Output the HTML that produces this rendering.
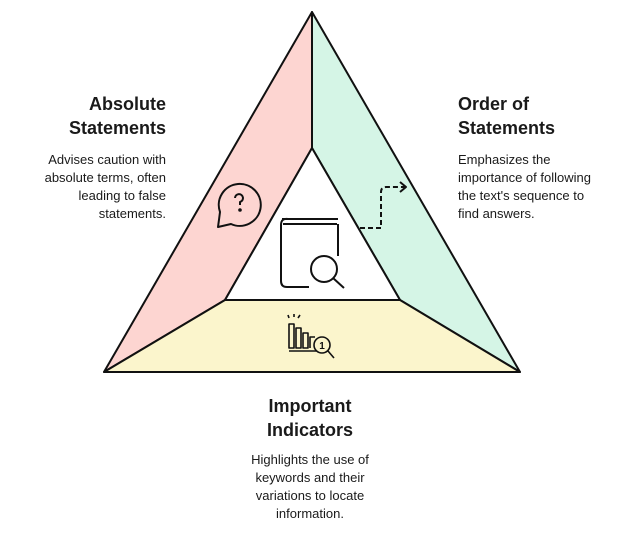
<!DOCTYPE html>
<html><head><meta charset="utf-8"><style>
body{margin:0;width:636px;height:535px;background:#fff;font-family:"Liberation Sans",sans-serif;position:relative;overflow:hidden}
.t{position:absolute;color:#1a1a1a}
h{display:block;font-weight:bold;font-size:18px;line-height:24px}
p{margin:0;font-size:13px;line-height:18px}
</style></head><body>
<svg width="636" height="535" style="position:absolute;left:0;top:0" fill="none" stroke="#111" stroke-width="2" stroke-linejoin="round">
<polygon points="312,12 312,148 225,300 104,372" fill="#fdd5d1"/>
<polygon points="312,12 520,372 400,300 312,148" fill="#d5f5e6"/>
<polygon points="104,372 225,300 400,300 520,372" fill="#fbf5cc"/>
<polygon points="312,148 225,300 400,300" fill="#fff"/>
<path d="M218,227 L231,224 A21,21 0 1 0 220,212 Q219,220 218,227 Z" stroke-width="2"/>
<path d="M235,198 a4,4 0 1 1 5,4 v3" stroke-width="2"/><circle cx="240" cy="210" r="0.8" fill="#111"/>
<path d="M360,228 H381 V192 Q381,187 386,187 H405" stroke-dasharray="5,3"/>
<path d="M400,182 L406,187 L400,192"/>
<path d="M282,219 H338 M283,224 H337 M338,224 V256 M309,287 H287 Q281,287 281,281 V225 Q281,218 288,219" />
<circle cx="324" cy="269" r="13"/><path d="M333,278 L344,288"/>
<path d="M289,348 V324 H294 V348 Z M296,348 V328 H301 V348 Z M303,348 V333 H308 V348 Z M310,348 V337 H315" stroke-width="1.6"/>
<path d="M289,318 l-1,-3 M294,317 l0,-3 M298,318 l2,-3" stroke-width="1.6"/>
<path d="M289,351 H318" stroke-width="1.6"/>
<circle cx="322" cy="345" r="8" fill="#fbf5cc" stroke-width="1.6"/><path d="M328,351 L334,358" stroke-width="1.6"/>
<text x="322" y="349" font-size="10" font-weight="bold" fill="#111" stroke="none" text-anchor="middle" font-family="Liberation Sans">1</text>
</svg>
<div class="t" style="right:470px;top:92px;text-align:right"><h>Absolute<br>Statements</h></div>
<div class="t" style="right:470px;top:151px;width:150px;text-align:right"><p>Advises caution with absolute terms, often leading to false statements.</p></div>
<div class="t" style="left:458px;top:92px"><h>Order of<br>Statements</h></div>
<div class="t" style="left:458px;top:151px;width:146px"><p>Emphasizes the importance of following the text's sequence to find answers.</p></div>
<div class="t" style="left:200px;width:220px;top:394px;text-align:center"><h>Important<br>Indicators</h></div>
<div class="t" style="left:230px;width:160px;top:451px;text-align:center"><p>Highlights the use of keywords and their variations to locate information.</p></div>
</body></html>
